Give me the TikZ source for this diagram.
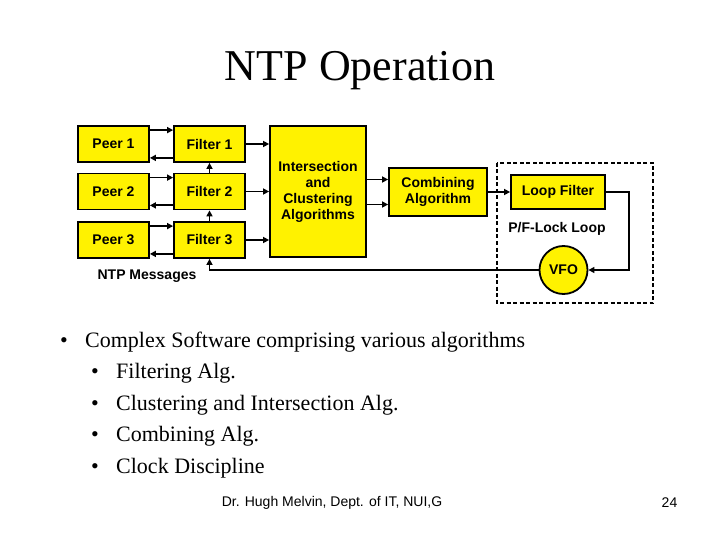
\documentclass[tikz,border=0pt]{standalone}
\usepackage{fontspec}
\setmainfont{Liberation Serif}
\newfontfamily\arialfont{Liberation Sans}
\usetikzlibrary{arrows.meta}
\begin{document}
\begin{tikzpicture}[x=1pt,y=-1pt,
 box/.style={draw=black, line width=1.8pt, fill=yellow, font=\arialfont\bfseries\fontsize{14}{16}\selectfont, align=center, inner sep=0pt},
 smallbox/.style={box, minimum width=71pt, minimum height=36pt},
 conn/.style={line width=1.8pt, -{Triangle[length=6pt,width=6pt]}},
 plain/.style={line width=1.8pt},
 lbl/.style={font=\arialfont\bfseries\fontsize{14}{16}\selectfont, inner sep=0pt},
 bul/.style={font=\fontsize{22}{26}\selectfont, anchor=base west, inner sep=0pt},
 foot/.style={font=\arialfont\fontsize{14}{16}\selectfont, inner sep=0pt},
]
\useasboundingbox (0,0) rectangle (720,540);
\fill[white] (0,0) rectangle (720,540);

% title
\node[font=\fontsize{44}{50}\selectfont, anchor=base, inner sep=0pt] (title) at (360,81) {NTP Operation};

% peers and filters
\node[smallbox] (p1) at (113.5,144) {Peer 1};
\node[smallbox] (p2) at (113.5,191.5) {Peer 2};
\node[smallbox] (p3) at (113.5,240) {Peer 3};
\node[smallbox] (f1) at (209.5,144) {Filter 1};
\node[smallbox] (f2) at (209.5,191.5) {Filter 2};
\node[smallbox] (f3) at (209.5,240) {Filter 3};

\node[box, minimum width=96pt, minimum height=131pt] (isec) at (318,191.5) {Intersection\\and\\Clustering\\Algorithms};
\node[box, minimum width=98pt, minimum height=48pt] (comb) at (438,192) {Combining\\Algorithm};

% dashed loop region
\draw[line width=1.8pt, dash pattern=on 4pt off 2.5pt] (497,163) rectangle (653,303);
\node[box, minimum width=94pt, minimum height=34pt] (loopf) at (558,192) {Loop Filter};
\node[lbl] (pfl) at (557,229) {P/F-Lock Loop};
\node[box, circle, minimum size=48pt] (vfo) at (563.5,270) {VFO};

\node[lbl] (msgs) at (147,276) {NTP Messages};

% peer <-> filter
\foreach \i in {1,2,3}{
  \draw[conn] ([yshift=-5pt]p\i.north east) -- ([yshift=-5pt]p\i.north east -| f\i.west);
  \draw[conn] ([yshift=5pt]f\i.south west) -- ([yshift=5pt]f\i.south west -| p\i.east);
  \draw[conn] (f\i.east) -- (f\i.east -| isec.west);
}
\draw[conn] (f3.north) -- (f2.south);
\draw[conn] (f2.north) -- (f1.south);

% intersection -> combining
\draw[conn] ([yshift=-12.5pt]comb.west -| isec.east) -- ([yshift=-12.5pt]comb.west);
\draw[conn] ([yshift=12.5pt]comb.west -| isec.east) -- ([yshift=12.5pt]comb.west);

% combining -> loop filter
\draw[conn] (comb.east) -- (loopf.west);

% loop filter -> vfo
\coordinate (lr) at (629,192);
\draw[conn] (loopf.east) -- (lr) |- (vfo.east);

% vfo -> filter 3
\coordinate (fb) at (209.5,270);
\draw[conn] (vfo.west) -- (fb) -- (f3.south);

% bullets
\node[bul, anchor=base west] (b0d) at (60,347) {•};
\node[bul] (b0) at (85,347) {Complex Software comprising various algorithms};
\node[bul] (b1d) at (91,378.5) {•};
\node[bul] (b1) at (116,378.5) {Filtering Alg.};
\node[bul] (b2d) at (91,410) {•};
\node[bul] (b2) at (116,410) {Clustering and Intersection Alg.};
\node[bul] (b3d) at (91,441.5) {•};
\node[bul] (b3) at (116,441.5) {Combining Alg.};
\node[bul] (b4d) at (91,473) {•};
\node[bul] (b4) at (116,473) {Clock Discipline};

% footer
\node[foot] (ft) at (332,503) {Dr. Hugh Melvin, Dept. of IT, NUI,G};
\node[foot] (pg) at (669.5,503) {24};
\end{tikzpicture}
\end{document}
